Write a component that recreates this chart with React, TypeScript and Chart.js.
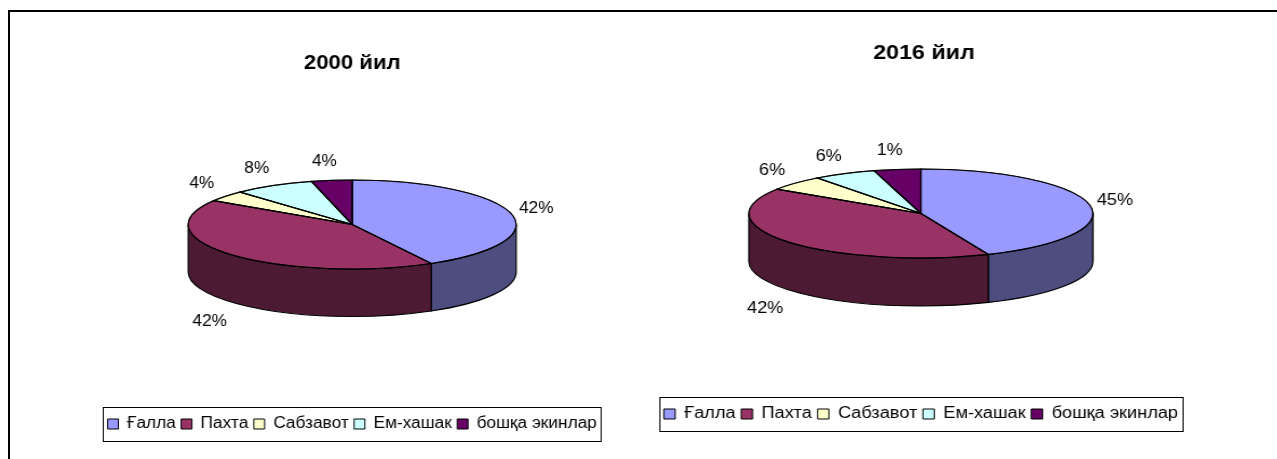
import React, { useEffect, useRef } from "react";
import { Chart, registerables } from "chart.js";

Chart.register(...registerables);

const categories = ["Ғалла", "Пахта", "Сабзавот", "Ем-хашак", "бошқа экинлар"];
const values2000 = [42, 42, 4, 8, 4];
const labels2000 = ["42%", "42%", "4%", "8%", "4%"];
const values2016 = [43.6, 40.6, 5.5, 5.9, 4.4];
const labels2016 = ["45%", "42%", "6%", "6%", "1%"];
const colors = ["#9999FF", "#993366", "#FFFFCC", "#CCFFFF", "#660066"];
const sideColors = ["#4D4D80", "#4D1A33", "#808066", "#668080", "#330033"];

const FONT = "'Liberation Sans', Arial, sans-serif";

type Cfg = {
  title: string;
  values: number[];
  labels: string[];
  sx: number;
  centerX: number;
  halfWidth: number;
  titleX: number;
  titleY: number;
  rx: number;
  ry: number;
  cy: number;
  depth: number;
  legendBottom: number;
};

const chart1: Cfg = {
  title: "2000 йил", values: values2000, labels: labels2000,
  sx: 1.08, centerX: 352, halfWidth: 340, titleX: 352, titleY: 63,
  rx: 164, ry: 44.5, cy: 224.5, depth: 47.5, legendBottom: 438,
};
const chart2: Cfg = {
  title: "2016 йил", values: values2016, labels: labels2016,
  sx: 1.135, centerX: 921, halfWidth: 340, titleX: 924, titleY: 53,
  rx: 172, ry: 44.5, cy: 213.5, depth: 48, legendBottom: 428,
};

function PieChart({ cfg }: { cfg: Cfg }) {
  const ref = useRef<HTMLCanvasElement>(null);
  const W = Math.round((cfg.halfWidth * 2) / cfg.sx);
  useEffect(() => {
    const r = cfg.rx / cfg.sx;
    const sq = cfg.ry / r;
    const gapX = 26 / cfg.sx;
    const gapY = 19;
    const leftShift = 4 / cfg.sx;
    const plugin = {
      id: "pie3d",
      afterLayout(chart: any) {
        const shift = (cfg.titleX - cfg.centerX) / cfg.sx;
        chart.titleBlock.left += shift;
        chart.titleBlock.right += shift;
      },
      beforeDatasetsDraw(chart: any) {
        const ctx = chart.ctx;
        const arcs = chart.getDatasetMeta(0).data;
        ctx.save();
        arcs.forEach((arc: any, i: number) => {
          const a0 = Math.max(arc.startAngle, 0);
          const a1 = Math.min(arc.endAngle, Math.PI);
          if (a1 <= a0) return;
          ctx.beginPath();
          ctx.ellipse(arc.x, cfg.cy, r, cfg.ry, 0, a0, a1);
          ctx.ellipse(arc.x, cfg.cy + cfg.depth, r, cfg.ry, 0, a1, a0, true);
          ctx.closePath();
          ctx.fillStyle = sideColors[i];
          ctx.fill();
          ctx.strokeStyle = "#000";
          ctx.lineWidth = 1.2;
          ctx.stroke();
        });
        ctx.restore();
        ctx.save();
        const x = chart.chartArea.left + chart.chartArea.width / 2;
        ctx.translate(x, cfg.cy);
        ctx.scale(1, sq);
        ctx.translate(-x, -(chart.chartArea.top + chart.chartArea.height / 2));
      },
      afterDatasetsDraw(chart: any) {
        const ctx = chart.ctx;
        ctx.restore();
        const arcs = chart.getDatasetMeta(0).data;
        ctx.save();
        ctx.strokeStyle = "#000";
        ctx.lineWidth = 1.2;
        arcs.forEach((arc: any) => {
          ctx.beginPath();
          ctx.moveTo(arc.x, cfg.cy);
          ctx.ellipse(arc.x, cfg.cy, r, cfg.ry, 0, arc.startAngle, arc.endAngle);
          ctx.closePath();
          ctx.stroke();
        });
        ctx.fillStyle = "#000";
        ctx.font = `16px ${FONT}`;
        ctx.textAlign = "center";
        ctx.textBaseline = "middle";
        arcs.forEach((arc: any, i: number) => {
          const mid = (arc.startAngle + arc.endAngle) / 2;
          const s = Math.sin(mid);
          const c = Math.cos(mid);
          const px = arc.x + (r + gapX) * c - (c < 0 ? leftShift : 0);
          const py = cfg.cy + (cfg.ry + gapY) * s + (s > 0.3 ? cfg.depth + 6 : 0);
          ctx.fillText(cfg.labels[i], px, py);
        });
        ctx.restore();
      },
      afterDraw(chart: any) {
        const boxes = chart.legend.legendHitBoxes;
        const ctx = chart.ctx;
        const left = Math.min(...boxes.map((b: any) => b.left)) - 4;
        const right = Math.max(...boxes.map((b: any) => b.left + b.width)) + 4;
        const top = boxes[0].top - 9;
        const bottom = boxes[0].top + boxes[0].height + 9;
        ctx.save();
        ctx.strokeStyle = "#000";
        ctx.lineWidth = 1;
        ctx.strokeRect(Math.round(left) + 0.5, Math.round(top) + 0.5, Math.round(right - left), Math.round(bottom - top));
        ctx.restore();
      },
    };
    const chart = new Chart(ref.current as HTMLCanvasElement, {
      type: "pie",
      data: {
        labels: categories,
        datasets: [
          {
            data: cfg.values,
            backgroundColor: colors,
            borderColor: "#000",
            borderWidth: 1,
            radius: r,
            clip: false,
          } as any,
        ],
      },
      options: {
        animation: false,
        responsive: false,
        devicePixelRatio: 1,
        events: [],
        layout: { padding: { top: 0, bottom: 459 - cfg.legendBottom - 4 } },
        plugins: {
          tooltip: { enabled: false },
          title: {
            display: true,
            text: cfg.title,
            color: "#000",
            font: { family: FONT, size: 20.5, weight: "bold" },
            padding: { top: cfg.titleY - 12, bottom: 10 },
          },
          legend: {
            display: true,
            position: "bottom",
            labels: {
              color: "#000",
              boxWidth: 10,
              boxHeight: 10,
              padding: 5,
              font: { family: FONT, size: 16 },
            },
          },
        },
      },
      plugins: [plugin],
    } as any);
    return () => chart.destroy();
  }, [cfg, W]);
  return (
    <div
      style={{
        position: "absolute",
        left: cfg.centerX - cfg.halfWidth,
        top: 0,
        width: W,
        height: 459,
        transform: `scaleX(${cfg.sx})`,
        transformOrigin: "0 0",
      }}
    >
      <canvas ref={ref} width={W} height={459} style={{ display: "block" }} />
    </div>
  );
}

export default function App() {
  return (
    <div style={{ position: "fixed", left: 0, top: 0, width: 1277, height: 459, overflow: "hidden", background: "#fff" }}>
      <div
        style={{
          position: "absolute",
          left: 8,
          top: 10,
          width: 1269,
          height: 449,
          borderTop: "2px solid #000",
          borderLeft: "2px solid #000",
          boxSizing: "border-box",
        }}
      />
      <PieChart cfg={chart1} />
      <PieChart cfg={chart2} />
    </div>
  );
}
